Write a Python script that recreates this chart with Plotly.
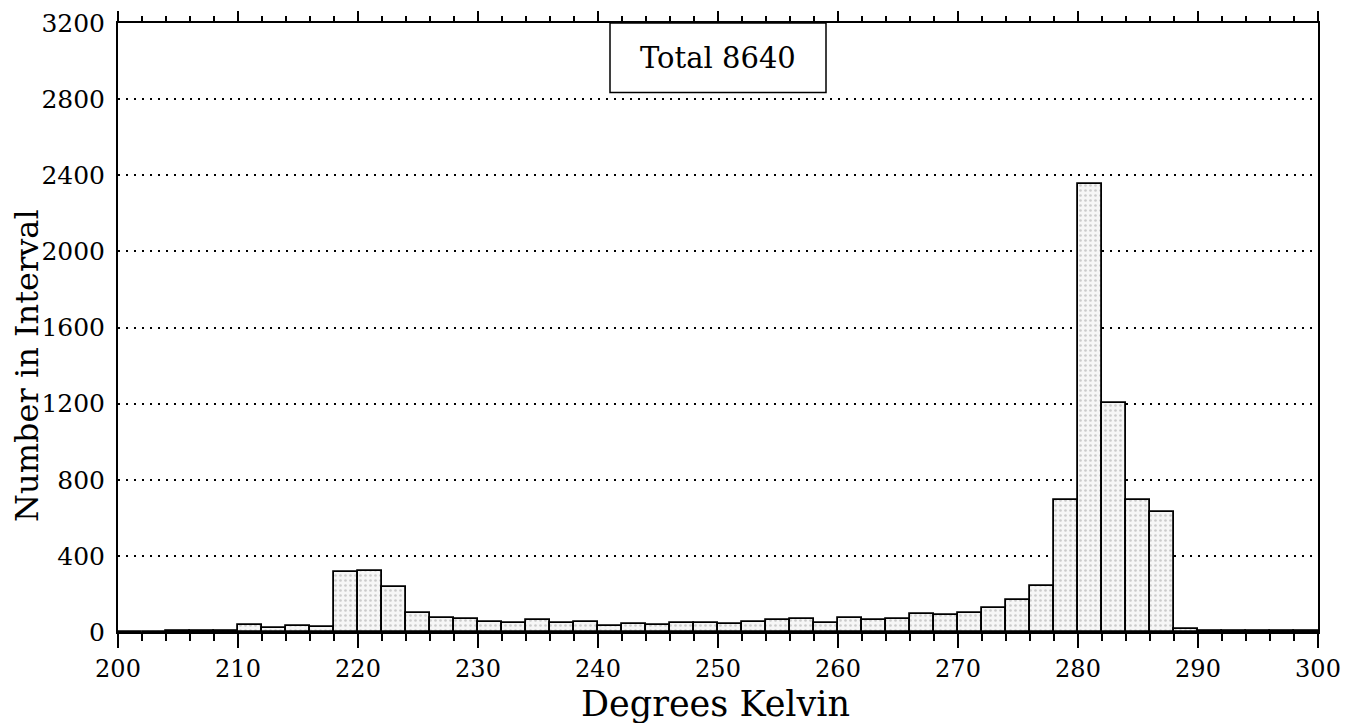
import plotly.graph_objects as go

# Histogram bins (left edges, width 2 K) and counts
bin_left = list(range(200, 300, 2))
counts = [2, 2, 3, 3, 3,
          39, 23, 32, 26, 317,
          322, 238, 100, 76, 69,
          53, 48, 62, 49, 53,
          30, 40, 37, 48, 48,
          40, 53, 62, 67, 48,
          76, 62, 67, 96, 88,
          102, 125, 167, 240, 695,
          2352, 1203, 691, 631, 14,
          4, 4, 4, 4, 5]
bin_width = 2
x_ticks = list(range(200, 301, 10))
y_ticks = list(range(0, 3201, 400))
total_label = "Total 8640"
x_title = "Degrees Kelvin"
y_title = "Number in Interval"

FONT = "DejaVu Serif"
centers = [b + bin_width / 2 for b in bin_left]

fig = go.Figure()
fig.add_trace(go.Bar(
    x=centers, y=counts, width=[bin_width] * len(centers),
    marker=dict(color="#ececec",
                line=dict(color="black", width=1.8),
                pattern=dict(shape=".", size=5, solidity=0.22,
                             fgcolor="#a0a0a0", bgcolor="#f6f6f6")),
    showlegend=False, hoverinfo="x+y",
))
# invisible trace for the top axis
fig.add_trace(go.Scatter(x=[200, 300], y=[0, 0], xaxis="x2", mode="markers",
                         marker=dict(opacity=0), showlegend=False, hoverinfo="skip"))

# page body adds an 8px margin, so the figure is sized/placed to compensate
fig.update_layout(
    width=1345, height=715,
    margin=dict(l=110, r=35, t=15, b=91, autoexpand=False),
    paper_bgcolor="white", plot_bgcolor="white",
    font=dict(family=FONT, color="black", size=25),
    bargap=0,
    xaxis=dict(range=[200, 300], tickvals=x_ticks, ticks="outside", ticklen=14,
               tickwidth=1.8, tickcolor="black", automargin=False,
               minor=dict(dtick=2, ticks="outside", ticklen=7, tickwidth=1.8, tickcolor="black"),
               showline=True, linewidth=2, linecolor="black", showgrid=False,
               zeroline=False, tickfont=dict(size=24), ticklabelstandoff=0),
    xaxis2=dict(range=[200, 300], overlaying="x", side="top", tickvals=x_ticks,
                ticks="outside", ticklen=10, tickwidth=1.5, tickcolor="black",
                automargin=False,
                minor=dict(dtick=2, ticks="outside", ticklen=5, tickwidth=1.5, tickcolor="black"),
                showticklabels=False, showline=True, linewidth=2, linecolor="black",
                showgrid=False, zeroline=False),
    yaxis=dict(range=[0, 3200], tickvals=y_ticks, ticks="", showline=True, linewidth=2,
               linecolor="black", mirror=True, showgrid=True, gridcolor="black",
               griddash="2px,6px", gridwidth=1.5, zeroline=False, tickfont=dict(size=25),
               ticklabelstandoff=6, automargin=False),
)

# axis titles
fig.add_annotation(x=0.498, y=-0.119, xref="paper", yref="paper", text=x_title,
                   showarrow=False, font=dict(size=35, family=FONT),
                   xanchor="center", yanchor="middle")
fig.add_annotation(x=-0.0758, y=0.437, xref="paper", yref="paper", text=y_title,
                   showarrow=False, textangle=-90, font=dict(size=32, family=FONT),
                   xanchor="center", yanchor="middle")

# Total box
fig.add_shape(type="rect", xref="x", yref="y", x0=241, x1=259, y0=2835, y1=3200,
              line=dict(color="black", width=1.5), fillcolor="white", layer="above")
fig.add_annotation(x=250, y=3018, xref="x", yref="y", text=total_label, showarrow=False,
                   font=dict(size=29, family=FONT))

fig.write_html("out.html")
